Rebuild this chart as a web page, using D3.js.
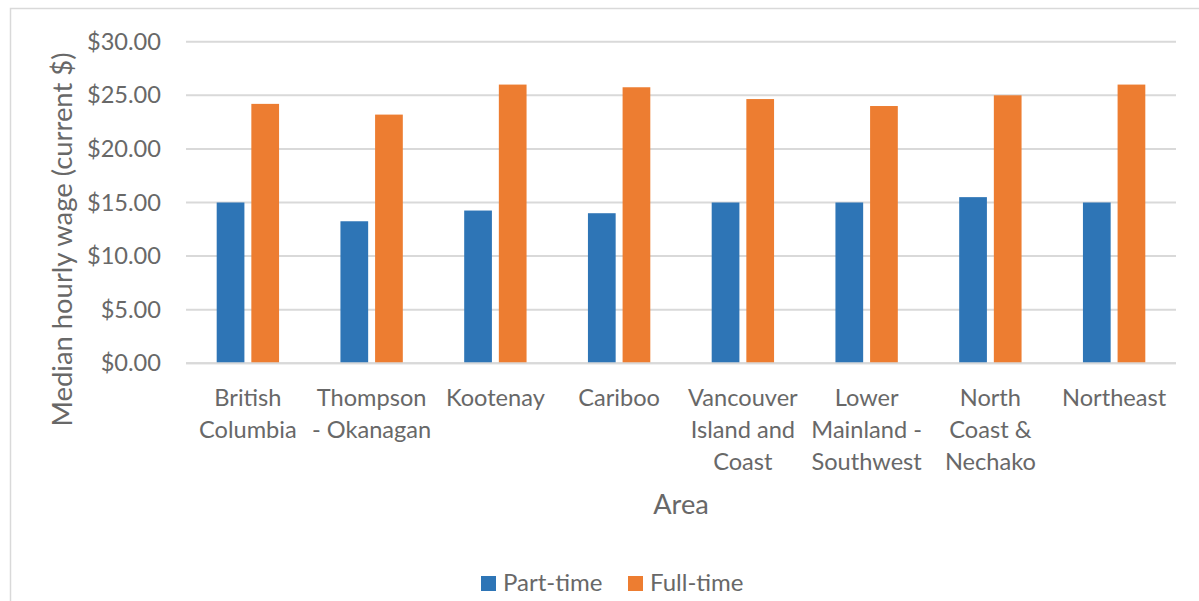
<!DOCTYPE html>
<html>
<head>
<meta charset="utf-8">
<script src="https://cdn.jsdelivr.net/npm/d3@7"></script>
<style>
  html, body { margin: 0; padding: 0; background: #fff; }
  svg { display: block; font-family: Lato, "Open Sans", sans-serif; }
</style>
</head>
<body>
<svg id="chart" width="1199" height="601"></svg>
<script>
// Areas, each label already split into the lines it wraps to
const areaLabels = [
  ["British", "Columbia"],
  ["Thompson", "- Okanagan"],
  ["Kootenay"],
  ["Cariboo"],
  ["Vancouver", "Island and", "Coast"],
  ["Lower", "Mainland -", "Southwest"],
  ["North", "Coast &", "Nechako"],
  ["Northeast"]
];
const areas = areaLabels.map(l => l.join(" "));

// Median hourly wage, current dollars
const seriesNames = ["Part-time", "Full-time"];
const partTime = [15.00, 13.25, 14.25, 14.00, 15.00, 15.00, 15.50, 15.00];
const fullTime = [24.20, 23.20, 26.00, 25.75, 24.65, 24.00, 25.00, 26.00];
const yTicks = [0, 5, 10, 15, 20, 25, 30];

const colors = { "Part-time": "#2e75b6", "Full-time": "#ed7d31" };
const textColor = "#686868";
const gridColor = "#d9d9d9";

const rows = areas.map((a, i) => ({ area: a, "Part-time": partTime[i], "Full-time": fullTime[i] }));

const svg = d3.select("#chart");

// chart frame
svg.append("rect")
  .attr("x", 10.5).attr("y", 8.5)
  .attr("width", 1210).attr("height", 620)
  .attr("fill", "none").attr("stroke", gridColor).attr("stroke-width", 1.5);

const plot = { left: 186, right: 1176, top: 41.7, bottom: 363.3 };

const x0 = d3.scaleBand().domain(areas).range([plot.left, plot.right]).paddingInner(0).paddingOuter(0);
const x1 = d3.scaleBand().domain(seriesNames)
  .range([x0.bandwidth() * 0.248, x0.bandwidth() * 0.752])
  .paddingInner(0.2).paddingOuter(0);
const y = d3.scaleLinear().domain([0, 30]).range([plot.bottom, plot.top]);

// gridlines
svg.append("g").selectAll("line").data(yTicks).join("line")
  .attr("x1", plot.left).attr("x2", plot.right)
  .attr("y1", d => y(d)).attr("y2", d => y(d))
  .attr("stroke", gridColor).attr("stroke-width", 2);

// y axis labels
const yAxis = d3.axisLeft(y).tickValues(yTicks).tickSize(0).tickPadding(25)
  .tickFormat(d => "$" + d3.format(".2f")(d));
const gy = svg.append("g").attr("transform", `translate(${plot.left},0)`).call(yAxis);
gy.select(".domain").remove();
gy.selectAll("text")
  .attr("fill", textColor).style("font-size", "23.6px").style("font-family", "Lato");

// bars
const groups = svg.append("g").selectAll("g").data(rows).join("g")
  .attr("transform", d => `translate(${x0(d.area)},0)`);
groups.selectAll("rect")
  .data(d => seriesNames.map(s => ({ key: s, value: d[s] })))
  .join("rect")
  .attr("x", d => x1(d.key))
  .attr("width", x1.bandwidth())
  .attr("y", d => y(d.value))
  .attr("height", d => y(0) - y(d.value))
  .attr("fill", d => colors[d.key]);

// baseline on top of bars
svg.append("line")
  .attr("x1", plot.left).attr("x2", plot.right)
  .attr("y1", y(0)).attr("y2", y(0))
  .attr("stroke", gridColor).attr("stroke-width", 2);

// category labels
const xAxis = d3.axisBottom(x0).tickSize(0).tickFormat("");
const gx = svg.append("g").attr("transform", `translate(0,${plot.bottom})`).call(xAxis);
gx.select(".domain").remove();
gx.selectAll(".tick").each(function (d, i) {
  const t = d3.select(this).append("text")
    .attr("text-anchor", "middle")
    .attr("fill", textColor)
    .style("font-size", "23.6px").style("font-family", "Lato");
  areaLabels[i].forEach((line, j) => {
    t.append("tspan").attr("x", 0).attr("y", 42.7 + j * 32).text(line);
  });
});

// axis titles
svg.append("text")
  .attr("x", (plot.left + plot.right) / 2).attr("y", 513.5)
  .attr("text-anchor", "middle").attr("fill", textColor)
  .style("font-size", "27.2px").text("Area");

svg.append("text")
  .attr("transform", "translate(72,239.5) rotate(-90)")
  .attr("text-anchor", "middle").attr("fill", textColor)
  .style("font-size", "27.4px").text("Median hourly wage (current $)");

// legend
const legendX = [481, 628];
const legend = svg.append("g").selectAll("g").data(seriesNames).join("g")
  .attr("transform", (d, i) => `translate(${legendX[i]},576)`);
legend.append("rect").attr("width", 15).attr("height", 15).attr("fill", d => colors[d]);
legend.append("text").attr("x", 22).attr("y", 15)
  .attr("fill", textColor).style("font-size", "24px").text(d => d);
</script>
</body>
</html>
